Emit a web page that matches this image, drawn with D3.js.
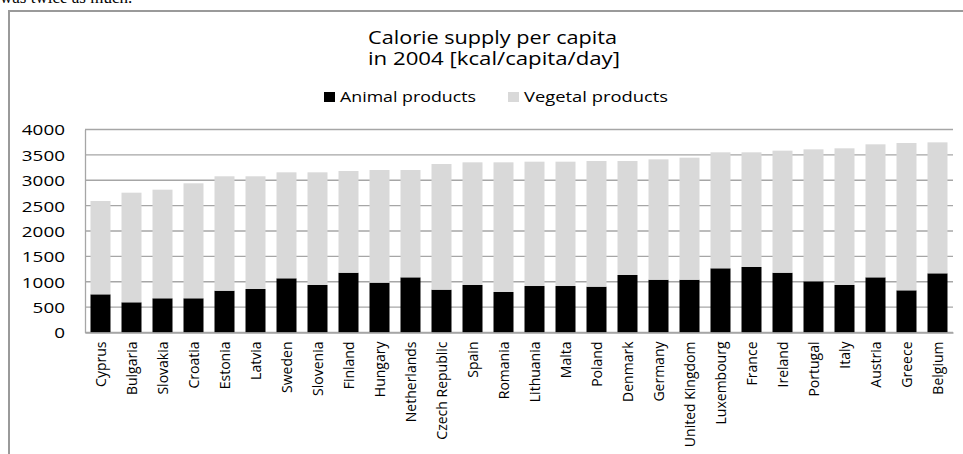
<!DOCTYPE html>
<html>
<head>
<meta charset="utf-8">
<script src="https://cdn.jsdelivr.net/npm/d3@7"></script>
<style>
  body { margin: 0; background: #fff; }
  text { font-family: "Open Sans", sans-serif; fill: #000; }
</style>
</head>
<body>
<div id="chart"></div>
<script>
var svgWidth = 963;
var svgHeight = 454;

// plot area inside the frame
var margin = { top: 129.5, right: 10, bottom: 121.5, left: 85 };
var width = svgWidth - margin.left - margin.right;
var height = svgHeight - margin.top - margin.bottom;

// data
var countries = ["Cyprus", "Bulgaria", "Slovakia", "Croatia", "Estonia", "Latvia", "Sweden",
  "Slovenia", "Finland", "Hungary", "Netherlands", "Czech Republic", "Spain", "Romania",
  "Lithuania", "Malta", "Poland", "Denmark", "Germany", "United Kingdom", "Luxembourg",
  "France", "Ireland", "Portugal", "Italy", "Austria", "Greece", "Belgium"];
var animal = [752, 595, 674, 674, 824, 857, 1068, 936, 1178, 981, 1087, 844, 936, 798,
  916, 916, 903, 1133, 1040, 1040, 1265, 1291, 1178, 1009, 936, 1087, 831, 1166];
var vegetal = [1839, 2160, 2140, 2266, 2254, 2221, 2088, 2220, 2004, 2221, 2115, 2476, 2417, 2555,
  2450, 2450, 2476, 2246, 2372, 2405, 2285, 2259, 2405, 2600, 2693, 2621, 2903, 2581];
var seriesNames = ["Animal products", "Vegetal products"];
var seriesColors = ["#000000", "#d9d9d9"];
var yTicks = [0, 500, 1000, 1500, 2000, 2500, 3000, 3500, 4000];

var svg = d3.select("#chart")
  .append("svg")
  .attr("width", svgWidth)
  .attr("height", svgHeight);

// clipped line of the surrounding document
svg.append("text")
  .attr("x", 0)
  .attr("y", 3)
  .style("font-family", "'Liberation Serif', serif")
  .style("font-size", "17px")
  .text("was twice as much.");

// chart frame (only top and left visible)
svg.append("path")
  .attr("d", "M9,454 V11 H963")
  .attr("fill", "none")
  .attr("stroke", "#9a9a9a")
  .attr("stroke-width", 2);

// title
var title = svg.append("text")
  .attr("text-anchor", "middle")
  .style("font-size", "17.5px");
title.append("tspan").attr("x", 492.5).attr("y", 43.5)
  .attr("textLength", 249).attr("lengthAdjust", "spacingAndGlyphs")
  .text("Calorie supply per capita");
title.append("tspan").attr("x", 494).attr("y", 65)
  .attr("textLength", 252).attr("lengthAdjust", "spacingAndGlyphs")
  .text("in 2004 [kcal/capita/day]");

// legend
var legendX = [324, 508];
var legendW = [136, 144];
seriesNames.forEach(function(name, i) {
  svg.append("rect")
    .attr("x", legendX[i])
    .attr("y", 92)
    .attr("width", 11)
    .attr("height", 10)
    .attr("fill", seriesColors[i]);
  svg.append("text")
    .attr("x", legendX[i] + 16)
    .attr("y", 102)
    .attr("textLength", legendW[i])
    .attr("lengthAdjust", "spacingAndGlyphs")
    .style("font-size", "15px")
    .text(name);
});

var chartGroup = svg.append("g")
  .attr("transform", `translate(${margin.left}, ${margin.top})`);

var xScale = d3.scaleBand()
  .domain(countries)
  .range([0, 868])
  .paddingInner(0.355)
  .paddingOuter(0.1775);

var yScale = d3.scaleLinear()
  .domain([0, 4000])
  .range([height, 0]);

// gridlines
chartGroup.append("g")
  .selectAll("line")
  .data(yTicks)
  .enter()
  .append("line")
  .attr("x1", 0)
  .attr("x2", 868)
  .attr("y1", d => yScale(d))
  .attr("y2", d => yScale(d))
  .attr("stroke", "#a6a6a6")
  .attr("stroke-width", 1.3);

// stacked bars
var table = countries.map(function(c, i) {
  return { country: c, animal: animal[i], vegetal: vegetal[i] };
});
var stack = d3.stack().keys(["animal", "vegetal"]);
var layers = stack(table);

chartGroup.selectAll(".layer")
  .data(layers)
  .enter()
  .append("g")
  .attr("class", "layer")
  .attr("fill", (d, i) => seriesColors[i])
  .selectAll("rect")
  .data(d => d)
  .enter()
  .append("rect")
  .attr("x", d => xScale(d.data.country))
  .attr("width", xScale.bandwidth())
  .attr("y", d => yScale(d[1]))
  .attr("height", d => yScale(d[0]) - yScale(d[1]));

// y axis
var leftAxis = d3.axisLeft(yScale)
  .tickValues(yTicks)
  .tickFormat(d3.format("d"))
  .tickSize(0)
  .tickPadding(20);
var yAxis = chartGroup.append("g").call(leftAxis);
yAxis.select(".domain").attr("stroke", "#a6a6a6").attr("stroke-width", 1.3);
yAxis.selectAll("text")
  .style("font-size", "15px")
  .style("font-family", "'Open Sans', sans-serif")
  .attr("fill", "#000")
  .attr("dy", "0.36em")
  .attr("textLength", d => String(d).length * 10.8)
  .attr("lengthAdjust", "spacingAndGlyphs");

// x axis
var bottomAxis = d3.axisBottom(xScale).tickSize(0);
var xAxis = chartGroup.append("g")
  .attr("transform", `translate(0, ${height})`)
  .call(bottomAxis);
xAxis.select(".domain").attr("stroke", "#a6a6a6").attr("stroke-width", 1.3);
xAxis.selectAll("text")
  .style("font-size", "14px")
  .style("font-family", "'Open Sans', sans-serif")
  .attr("fill", "#000")
  .attr("text-anchor", "end")
  .attr("transform", "rotate(-90)")
  .attr("x", -9)
  .attr("y", 0)
  .attr("dy", "0.36em");
</script>
</body>
</html>
